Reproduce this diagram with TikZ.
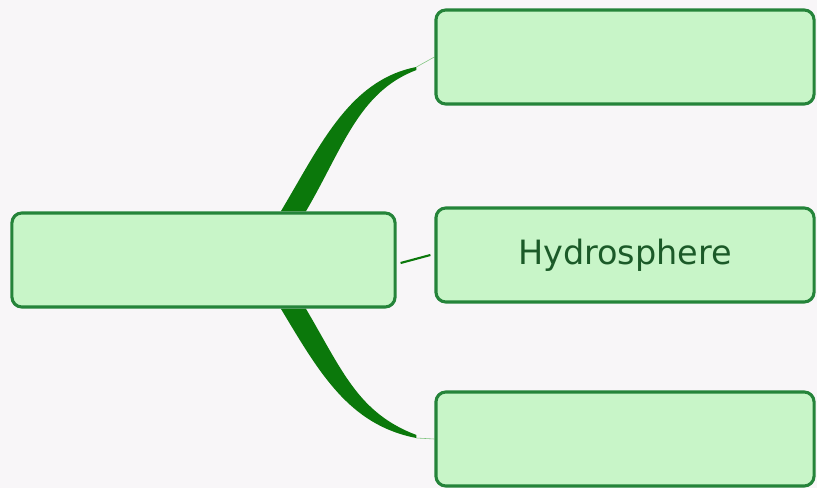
\documentclass[tikz,border=0pt]{standalone}
\usepackage{fontspec}
\setsansfont{DejaVu Sans}
\usepackage{tikz}
\usetikzlibrary{calc}
\definecolor{boxfill}{HTML}{C8F5C8}
\definecolor{boxline}{HTML}{25843A}
\definecolor{branch}{HTML}{0B780B}
\definecolor{labeltext}{HTML}{1B5A28}
\definecolor{paper}{HTML}{F8F6F8}
\pgfdeclarelayer{back}
\pgfsetlayers{back,main}
\tikzset{topic/.style={draw=boxline, fill=boxfill, line width=2.2pt, rounded corners=7pt,
    minimum height=2.35cm, inner sep=0pt, text=labeltext,
    font=\sffamily\fontsize{23.8}{27}\selectfont}}

\begin{document}
\begin{tikzpicture}[x=0.025cm, y=-0.025cm, line join=round]
    \begin{pgfonlayer}{back}
    \fill[paper] (0,0) rectangle (817,488);
    \end{pgfonlayer}
    \useasboundingbox (0,0) rectangle (817,488);
    \node[topic, minimum width=9.575cm] (main) at (203.5,260) {};
    \node[topic, minimum width=9.45cm] (upper) at (625,57) {};
    \node[topic, minimum width=9.45cm] (hydro) at (625,255) {\raisebox{-2pt}{Hydrosphere}};
    \node[topic, minimum width=9.45cm] (lower) at (625,439) {};
    % branches
    \coordinate (u1) at ($(main.north west)!0.70!(main.north east)$);
    \coordinate (u2) at ($(main.north west)!0.765!(main.north east)$);
    \coordinate (ut) at ($(upper.west)+(-18,10)$);
    \coordinate (l1) at ($(main.south west)!0.70!(main.south east)$);
    \coordinate (l2) at ($(main.south west)!0.765!(main.south east)$);
    \coordinate (lt) at ($(lower.west)+(-18,-1)$);
    \begin{pgfonlayer}{back}
    \fill[branch] (u1) .. controls +(38,-63) and +(-68,13) .. (ut)
        -- ++(0,3) .. controls +(-58,22) and +(37,-63) .. (u2) -- cycle;
    \draw[boxfill!60!branch, line width=0.4pt] (ut) -- (upper.west);
    \fill[branch] (l1) .. controls +(38,63) and +(-68,-13) .. (lt)
        -- ++(0,-3) .. controls +(-58,-22) and +(37,63) .. (l2) -- cycle;
    \draw[boxfill!60!branch, line width=0.4pt] (lt) -- (lower.west);
    \end{pgfonlayer}
    \draw[branch, line width=1.5pt] ($(main.east)+(4,3)$) -- ($(hydro.west)+(-4,0)$);
\end{tikzpicture}
\end{document}
